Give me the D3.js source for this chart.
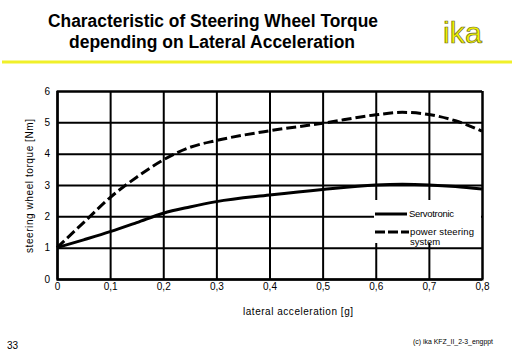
<!DOCTYPE html>
<html>
<head>
<meta charset="utf-8">
<script src="https://cdn.jsdelivr.net/npm/d3@7/dist/d3.min.js"></script>
<style>
  body { margin: 0; background: #fff; }
  text { font-family: "Liberation Sans", Arial, sans-serif; }
</style>
</head>
<body>
<svg id="chart" width="512" height="354"></svg>
<script>
// values
const accel = [0, 0.05, 0.1, 0.15, 0.2, 0.25, 0.3, 0.4, 0.5, 0.6, 0.65, 0.7, 0.75, 0.8];
const servotronic = [1, 1.25, 1.51, 1.8, 2.1, 2.3, 2.47, 2.68, 2.86, 3.0, 3.02, 3.0, 2.95, 2.87];
const powerSteering = [1, 1.8, 2.6, 3.25, 3.8, 4.2, 4.42, 4.73, 4.97, 5.24, 5.32, 5.25, 5.05, 4.72];
const xTicks = [0, 0.1, 0.2, 0.3, 0.4, 0.5, 0.6, 0.7, 0.8];
const yTicks = [0, 1, 2, 3, 4, 5, 6];

const svg = d3.select("#chart");
const fmt = d3.formatLocale({decimal: ",", thousands: ".", grouping: [3], currency: ["", ""]}).format("~g");

const x = d3.scaleLinear().domain([0, 0.8]).range([57, 482]);
const y = d3.scaleLinear().domain([0, 6]).range([279, 91]);

// header
svg.append("text").attr("x", 213).attr("y", 27).attr("text-anchor", "middle")
  .attr("font-size", 17.5).attr("font-weight", "bold")
  .attr("textLength", 330).attr("lengthAdjust", "spacingAndGlyphs")
  .text("Characteristic of Steering Wheel Torque");
svg.append("text").attr("x", 212).attr("y", 48).attr("text-anchor", "middle")
  .attr("font-size", 17.5).attr("font-weight", "bold")
  .attr("textLength", 286).attr("lengthAdjust", "spacingAndGlyphs")
  .text("depending on Lateral Acceleration");
svg.append("text").attr("x", 443).attr("y", 43)
  .attr("font-size", 30).attr("fill", "#f2f200").attr("stroke", "#6b6b20").attr("stroke-width", 0.7)
  .attr("textLength", 39).attr("lengthAdjust", "spacingAndGlyphs")
  .text("ika");
svg.append("line").attr("x1", 2).attr("x2", 512).attr("y1", 62).attr("y2", 62)
  .attr("stroke", "#f0f02a").attr("stroke-width", 3);

// grid
const gx = svg.append("g").attr("transform", `translate(0,${y(0)})`)
  .call(d3.axisBottom(x).tickValues(xTicks).tickFormat(fmt).tickSize(-(y(0) - y(6))).tickPadding(4));
const gy = svg.append("g").attr("transform", `translate(${x(0)},0)`)
  .call(d3.axisLeft(y).tickValues(yTicks).tickFormat(d3.format("d")).tickSize(-(x(0.8) - x(0))).tickPadding(7));
[gx, gy].forEach(g => {
  g.select(".domain").attr("stroke", "#000").attr("stroke-width", 2);
  g.selectAll(".tick line").attr("stroke", "#000").attr("stroke-width", 2);
  g.selectAll(".tick text").attr("font-size", 10).attr("fill", "#000")
    .style("font-family", "'Liberation Sans', Arial, sans-serif");
});

// legend box covers the grid
svg.append("rect").attr("x", 374).attr("y", 200).attr("width", 107).attr("height", 43).attr("fill", "#fff");

const line = d3.line().x((d, i) => x(accel[i])).y(d => y(d)).curve(d3.curveMonotoneX);
svg.append("path").attr("d", line(servotronic)).attr("fill", "none")
  .attr("stroke", "#000").attr("stroke-width", 3);
svg.append("path").attr("d", line(powerSteering)).attr("fill", "none")
  .attr("stroke", "#000").attr("stroke-width", 3).attr("stroke-dasharray", "10,4");

// legend
svg.append("line").attr("x1", 375).attr("x2", 407).attr("y1", 214).attr("y2", 214)
  .attr("stroke", "#000").attr("stroke-width", 3);
svg.append("text").attr("x", 409).attr("y", 217).attr("font-size", 9.5)
  .attr("textLength", 45).attr("lengthAdjust", "spacing").text("Servotronic");
svg.append("line").attr("x1", 375).attr("x2", 409).attr("y1", 232).attr("y2", 232)
  .attr("stroke", "#000").attr("stroke-width", 3).attr("stroke-dasharray", "10,3");
svg.append("text").attr("x", 410).attr("y", 235).attr("font-size", 9.5)
  .attr("textLength", 64).attr("lengthAdjust", "spacing").text("power steering");
svg.append("text").attr("x", 410).attr("y", 245).attr("font-size", 9.5).text("system");

// axis titles
svg.append("text").attr("x", 298).attr("y", 315).attr("text-anchor", "middle")
  .attr("font-size", 10).attr("textLength", 110).attr("lengthAdjust", "spacing")
  .text("lateral acceleration [g]");
svg.append("text").attr("transform", "translate(33,186) rotate(-90)").attr("text-anchor", "middle")
  .attr("font-size", 10).attr("textLength", 134).attr("lengthAdjust", "spacing")
  .text("steering wheel torque [Nm]");

// footer
svg.append("text").attr("x", 7).attr("y", 349).attr("font-size", 10).text("33");
svg.append("text").attr("x", 413).attr("y", 344).attr("font-size", 6.5)
  .attr("textLength", 80).attr("lengthAdjust", "spacingAndGlyphs")
  .text("(c) ika KFZ_II_2-3_engppt");
</script>
</body>
</html>
